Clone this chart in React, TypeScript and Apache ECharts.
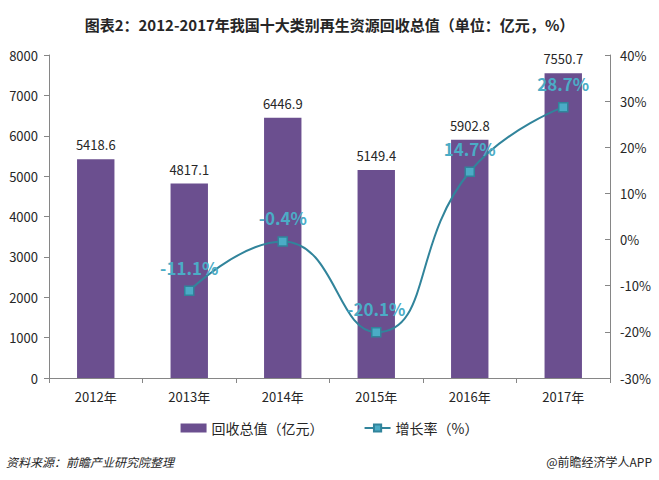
import React, { useEffect, useRef } from "react";
import * as echarts from "echarts";

const categories = ["2012年", "2013年", "2014年", "2015年", "2016年", "2017年"];
const recycleTotal = [5418.6, 4817.1, 6446.9, 5149.4, 5902.8, 7550.7];
const growthRate: (number | null)[] = [null, -11.1, -0.4, -20.1, 14.7, 28.7];

const FONT = "'Noto Sans CJK SC', 'Noto Sans', sans-serif";

export default function App() {
  const ref = useRef<HTMLDivElement>(null);
  useEffect(() => {
    if (!ref.current) return;
    const chart = echarts.init(ref.current, undefined, { renderer: "svg" });
    chart.setOption({
      animation: false,
      backgroundColor: "#ffffff",
      textStyle: { fontFamily: FONT },
      title: {
        text: "图表2：2012-2017年我国十大类别再生资源回收总值（单位：亿元，%）",
        left: "center",
        top: 12,
        textStyle: { fontSize: 15, fontWeight: "bold", color: "#262626", fontFamily: FONT },
      },
      legend: {
        bottom: 40,
        left: "center",
        itemGap: 40,
        itemWidth: 26,
        itemHeight: 9,
        textStyle: { fontSize: 14, color: "#262626", fontFamily: FONT },
        data: [
          { name: "回收总值（亿元）", icon: "rect" },
          { name: "增长率（%）" },
        ],
      },
      grid: { left: 49, right: 49, top: 55, bottom: 102, containLabel: false },
      xAxis: {
        type: "category",
        data: categories,
        axisLine: { lineStyle: { color: "#868686" } },
        axisTick: { show: true, alignWithLabel: false, length: 5, lineStyle: { color: "#868686" } },
        axisLabel: { fontSize: 13, color: "#262626", margin: 12, fontFamily: FONT },
      },
      yAxis: [
        {
          type: "value",
          min: 0,
          max: 8000,
          interval: 1000,
          axisLine: { show: true, lineStyle: { color: "#868686" } },
          axisTick: { show: true, length: 5, lineStyle: { color: "#868686" } },
          splitLine: { show: false },
          axisLabel: {
            fontSize: 13,
            color: "#262626",
            margin: 11,
            fontFamily: FONT,
            formatter: (v: number) => String(v),
          },
        },
        {
          type: "value",
          min: -30,
          max: 40,
          interval: 10,
          position: "right",
          axisLine: { show: true, lineStyle: { color: "#868686" } },
          axisTick: { show: true, inside: true, length: 5, lineStyle: { color: "#868686" } },
          splitLine: { show: false },
          axisLabel: { fontSize: 13, color: "#262626", margin: 10, formatter: "{value}%", fontFamily: FONT },
        },
      ],
      series: [
        {
          name: "回收总值（亿元）",
          type: "bar",
          data: recycleTotal,
          barWidth: "40%",
          itemStyle: { color: "#6B4F8F" },
          label: {
            show: true,
            position: "top",
            distance: 8,
            fontSize: 13,
            color: "#262626",
            fontFamily: FONT,
          },
        },
        {
          name: "增长率（%）",
          type: "line",
          yAxisIndex: 1,
          data: growthRate,
          smooth: true,
          symbol: "rect",
          symbolSize: 9,
          lineStyle: { color: "#31849B", width: 2 },
          itemStyle: { color: "#4BACC6", borderColor: "#31849B", borderWidth: 1.5 },
          label: {
            show: true,
            position: "top",
            distance: 10,
            fontSize: 17,
            fontWeight: "bold",
            color: "#4BACC6",
            formatter: (p: any) => `${p.value}%`,
            fontFamily: FONT,
          },
          z: 5,
        },
      ],
      graphic: [
        {
          type: "text",
          left: 6,
          top: 455,
          style: {
            text: "资料来源：前瞻产业研究院整理",
            fontSize: 12,
            fontStyle: "italic",
            fill: "#262626",
            fontFamily: FONT,
          },
        },
        {
          type: "text",
          right: 7,
          top: 455,
          style: {
            text: "@前瞻经济学人APP",
            fontSize: 12,
            fill: "#262626",
            fontFamily: FONT,
          },
        },
      ],
    });
    return () => chart.dispose();
  }, []);
  return (
    <div
      ref={ref}
      style={{ position: "fixed", left: 0, top: 0, width: 659, height: 480 }}
    />
  );
}
